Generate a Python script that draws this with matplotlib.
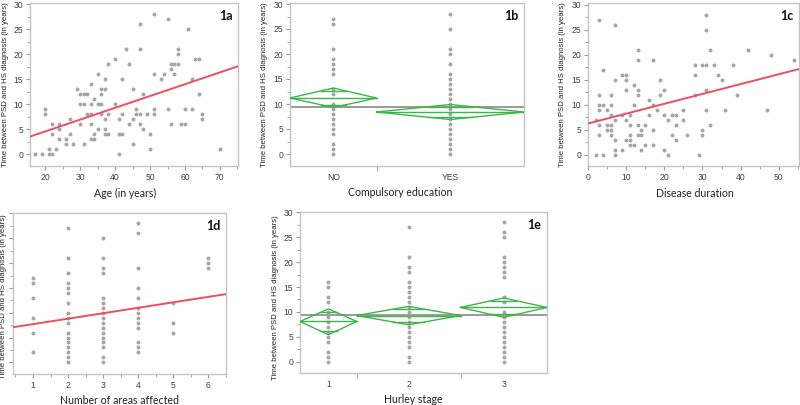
import numpy as np
import matplotlib
matplotlib.use('Agg')
import matplotlib.pyplot as plt
from matplotlib.ticker import MultipleLocator, FixedLocator, NullFormatter

plt.rcParams['font.family'] = ['Liberation Sans', 'DejaVu Sans']

# ---------------- data ----------------
# 1a: age vs time between PSD and HS diagnosis
age_1a = [17, 19, 20, 20, 21, 21, 22, 22, 22, 23, 24, 24, 24, 26, 26, 27, 27, 28, 29,
          30, 30, 30, 31, 31, 31, 32, 32, 33, 33, 33, 33, 33, 34, 34, 34, 35, 35, 35,
          36, 36, 36, 36, 37, 37, 37, 37, 37, 38, 38, 38, 40, 40, 41, 41, 41, 42, 42, 42,
          43, 44, 44, 45, 45, 45, 46, 46, 47, 47, 47, 47, 48, 48, 49, 50, 50,
          51, 51, 51, 51, 53, 54, 55, 55, 56, 56, 56, 57, 57, 58, 58, 58, 59, 60, 60,
          61, 62, 62, 63, 64, 64, 65, 65, 70]
time_1a = [0, 0, 9, 8, 1, 0, 0, 6, 4, 1, 6, 5, 3, 3, 2, 7, 4, 2, 13,
           12, 10, 6, 12, 10, 2, 12, 8, 14, 10, 8, 6, 3, 11, 4, 3, 16, 10, 5,
           13, 12, 10, 8, 15, 13, 7, 5, 4, 18, 8, 4, 19, 10, 7, 4, 0, 15, 8, 4,
           21, 18, 6, 13, 7, 2, 9, 8, 26, 21, 8, 6, 12, 5, 8, 4, 1,
           28, 16, 9, 8, 15, 16, 27, 9, 18, 17, 6, 18, 16, 21, 20, 18, 6, 9, 6,
           25, 15, 9, 19, 19, 12, 8, 7, 1]
fit_1a = (-0.19, 0.2366)   # intercept, slope

# 1b: compulsory education
edu_groups = ['NO', 'YES']
edu_n = [37, 63]
edu_no = [27, 26, 21, 19, 18, 17, 16, 13, 12, 10, 9, 8, 7, 6, 5, 4, 2, 1, 0]
edu_yes = [28, 25, 21, 20, 18, 16, 15, 14, 13, 12, 11, 10, 9, 8, 7, 6, 5, 4, 3, 2, 1, 0]
edu_mean = [11.2, 8.4]
edu_lo = [9.3, 6.9]
edu_hi = [13.2, 9.9]
edu_grand = 9.4

# 1c: disease duration
dur_1c = [2, 2, 3, 3, 3, 3, 3, 3, 4, 4, 4, 5, 5, 5, 6, 6, 6, 6, 6, 6, 7, 7, 7, 7, 7, 7,
          9, 9, 9, 10, 10, 10, 10, 10, 11, 11, 11, 11, 11, 12, 12, 12, 13, 13, 13, 13, 13, 13,
          14, 14, 14, 15, 15, 16, 16, 17, 17, 17, 17, 18, 19, 19, 20, 20, 20, 21, 21, 22, 22,
          23, 23, 23, 25, 25, 26, 28, 28, 28, 29, 30, 30, 30, 31, 31, 31, 31, 31, 32, 32,
          33, 34, 35, 36, 38, 39, 42, 47, 48, 54]
time_1c = [0, 7, 27, 12, 10, 9, 6, 4, 17, 10, 0, 9, 6, 5, 12, 10, 8, 6, 5, 4, 26, 15, 7, 3, 1, 0,
           16, 8, 1, 16, 15, 13, 7, 3, 8, 6, 4, 3, 2, 14, 10, 2, 21, 19, 13, 12, 6, 4,
           5, 4, 1, 6, 2, 11, 8, 19, 10, 5, 2, 9, 15, 12, 13, 8, 1, 7, 0, 8, 4,
           8, 6, 3, 9, 7, 4, 18, 16, 12, 0, 18, 5, 4, 28, 25, 18, 13, 9, 21, 6,
           18, 16, 15, 9, 18, 12, 21, 9, 20, 19]
fit_1c = (6.2, 0.197)

# 1d: number of areas affected
areas_1 = [17, 16, 13, 9, 6, 2]
areas_2 = [27, 21, 18, 16, 15, 14, 12, 10, 9, 8, 6, 5, 4, 3, 2, 1, 0]
areas_3 = [25, 21, 19, 18, 13, 12, 11, 10, 9, 8, 7, 6, 5, 4, 3, 1, 0]
areas_4 = [28, 26, 19, 15, 13, 11, 10, 9, 8, 7, 4, 3, 2]
areas_5 = [12, 8, 6]
areas_6 = [21, 20, 19]
fit_1d = (6.6, 1.1)

# 1e: Hurley stage
hurley_groups = ['1', '2', '3']
hurley_n = [23, 42, 35]
hurley_1 = [16, 15, 13, 12, 10, 9, 8, 7, 6, 5, 4, 2, 1, 0]
hurley_2 = [27, 21, 19, 18, 16, 15, 14, 13, 12, 11, 10, 9, 8, 7, 6, 5, 4, 3, 1, 0]
hurley_3 = [28, 26, 25, 21, 20, 19, 18, 17, 13, 12, 10, 9, 8, 7, 6, 5, 4, 3, 2, 1, 0]
hurley_mean = [8.07, 9.27, 10.9]
hurley_lo = [5.4, 7.4, 8.9]
hurley_hi = [10.6, 11.1, 12.8]
hurley_grand = 9.47

assert len(age_1a) == len(time_1a)
assert len(dur_1c) == len(time_1c)

# ---------------- style ----------------
W, H = 800, 405
PT_GRAY = '#a6a6a6'
RED = '#f04e60'
GREEN = '#3db54a'
SPINE = '#c4c4c4'
TICKC = '#9a9a9a'
LABC = '#404040'
YLAB = 'Time between PSD and HS diagnosis (in years)'

fig = plt.figure(figsize=(W / 100, H / 100), dpi=100)


def make_ax(l, r, t, b):
    return fig.add_axes([l / W, 1 - b / H, (r - l) / W, (b - t) / H])


def style(ax, label, panel, xlabel_pos, ylabel_pos, ylim, ylabels=True):
    for s in ax.spines.values():
        s.set_color(SPINE)
        s.set_linewidth(1.0)
    ax.set_ylim(*ylim)
    ax.yaxis.set_major_locator(MultipleLocator(5))
    ax.yaxis.set_minor_locator(MultipleLocator(2.5))
    ax.tick_params(axis='both', which='major', direction='out', length=3, width=0.8,
                   color=TICKC, labelsize=6.2, labelcolor=LABC, pad=2)
    ax.tick_params(axis='both', which='minor', direction='out', length=2, width=0.6,
                   color=TICKC)
    if not ylabels:
        ax.yaxis.set_major_formatter(NullFormatter())
    ax.set_xlabel(label, fontsize=7.6, color='#222222', family=['Lato', 'DejaVu Sans'])
    ax.xaxis.set_label_coords(*xlabel_pos)
    ax.set_ylabel(YLAB, fontsize=5.6, color='#222222')
    ax.yaxis.set_label_coords(*ylabel_pos)
    ax.text(0.975, 0.955, panel, transform=ax.transAxes, ha='right', va='top',
            fontsize=9, fontweight='bold', color='#111111', family=['Lato', 'DejaVu Sans'])


def fit_line(ax, fit):
    x0, x1 = ax.get_xlim()
    xs = np.array([x0, x1])
    ax.plot(xs, fit[0] + fit[1] * xs, color=RED, lw=1.4, zorder=3)


def diamonds(ax, n, means, lo, hi, grand):
    edges = np.concatenate([[0], np.cumsum(n)])
    ax.set_xlim(edges[0], edges[-1])
    ax.axhline(grand, color='#9a9a9a', lw=1.4, zorder=2)
    for i in range(len(n)):
        l, r = edges[i], edges[i + 1]
        m = (l + r) / 2
        ax.plot([l, m, r, m, l], [means[i], hi[i], means[i], lo[i], means[i]],
                color=GREEN, lw=1.0, zorder=4)
        ax.plot([l, r], [means[i], means[i]], color=GREEN, lw=1.0, zorder=4)
        half = (hi[i] - lo[i]) / 2
        for sgn in (1, -1):
            ov = means[i] + sgn * half / np.sqrt(2)
            frac = 1 - 1 / np.sqrt(2)
            hw = (r - l) / 2 * frac
            ax.plot([m - hw, m + hw], [ov, ov], color=GREEN, lw=1.0, zorder=4)
    centers = (edges[:-1] + edges[1:]) / 2
    return edges, centers


def cat_axis(ax, edges, centers, names):
    ax.xaxis.set_major_locator(FixedLocator(centers))
    ax.set_xticklabels(names)
    ax.xaxis.set_minor_locator(FixedLocator(edges[1:-1]))
    ax.tick_params(axis='x', which='major', length=0, pad=5)
    ax.tick_params(axis='x', which='minor', length=3.5)


MS = 8

# ---- 1a ----
ax = make_ax(30, 238, 3, 166)
ax.set_xlim(15.6, 75.2)
ax.xaxis.set_major_locator(MultipleLocator(10))
ax.xaxis.set_minor_locator(MultipleLocator(5))
ax.scatter(age_1a, time_1a, s=MS, color=PT_GRAY, linewidths=0, zorder=2)
style(ax, 'Age (in years)', '1a', (0.455, -0.135), (-0.103, 0.5), (-2.4, 30.3))
fit_line(ax, fit_1a)

# ---- 1b ----
ax = make_ax(290, 524, 3, 166)
edges, centers = diamonds(ax, edu_n, edu_mean, edu_lo, edu_hi, edu_grand)
for c, vals in zip(centers, [edu_no, edu_yes]):
    ax.scatter([c] * len(vals), vals, s=MS, color=PT_GRAY, linewidths=0, zorder=3)
style(ax, 'Compulsory education', '1b', (0.473, -0.127), (-0.092, 0.5), (-2.4, 30.2))
cat_axis(ax, edges, centers, edu_groups)

# ---- 1c ----
ax = make_ax(588, 799, 3, 166)
ax.set_xlim(0, 55.3)
ax.xaxis.set_major_locator(MultipleLocator(10))
ax.xaxis.set_minor_locator(MultipleLocator(5))
ax.scatter(dur_1c, time_1c, s=MS, color=PT_GRAY, linewidths=0, zorder=2)
style(ax, 'Disease duration', '1c', (0.507, -0.135), (-0.104, 0.5), (-2.3, 30.3))
fit_line(ax, fit_1c)

# ---- 1d ----
ax = make_ax(13, 226, 213, 374)
ax.set_xlim(0.43, 6.5)
ax.xaxis.set_major_locator(MultipleLocator(1))
ax.xaxis.set_minor_locator(MultipleLocator(0.5))
for k, vals in enumerate([areas_1, areas_2, areas_3, areas_4, areas_5, areas_6], start=1):
    ax.scatter([k] * len(vals), vals, s=MS, color=PT_GRAY, linewidths=0, zorder=2)
style(ax, 'Number of areas affected', '1d', (0.5, -0.13), (-0.028, 0.479), (-2.35, 30.1),
      ylabels=False)
fit_line(ax, fit_1d)

# ---- 1e ----
ax = make_ax(300, 547, 212, 373)
edges, centers = diamonds(ax, hurley_n, hurley_mean, hurley_lo, hurley_hi, hurley_grand)
for c, vals in zip(centers, [hurley_1, hurley_2, hurley_3]):
    ax.scatter([c] * len(vals), vals, s=MS, color=PT_GRAY, linewidths=0, zorder=3)
style(ax, 'Hurley stage', '1e', (0.457, -0.13), (-0.087, 0.471), (-2.3, 30.1))
cat_axis(ax, edges, centers, hurley_groups)

fig.savefig('out.png', dpi=100)
